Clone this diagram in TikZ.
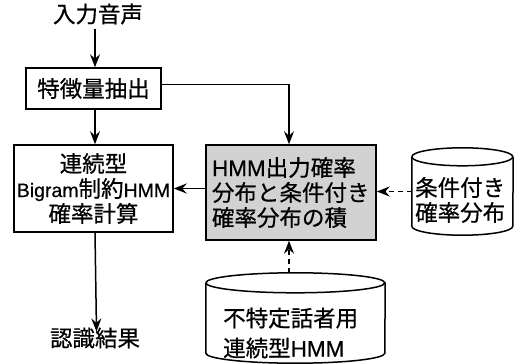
\documentclass[tikz,border=0pt]{standalone}
\usepackage{fontspec}
\setmainfont{Noto Sans CJK JP}[FakeBold=0.6]
\newfontfamily\latfont{Liberation Sans}[FakeBold=0.6]
\newcommand\smlat[1]{{\latfont\fontsize{19.5}{25}\selectfont #1}}
\usetikzlibrary{arrows.meta}
\begin{document}
\begin{tikzpicture}[x=1pt,y=-1pt,
  every node/.style={font=\fontsize{22.5}{25}\selectfont, inner sep=0pt},
  box/.style={draw, line width=1.5pt, align=center},
  arr/.style={line width=1.5pt, -{Stealth[length=13pt,width=10pt,inset=4.5pt]}},
  darr/.style={arr, dash pattern=on 5pt off 4pt},
  cyl/.style={line width=1.5pt}]
\useasboundingbox (0,0) rectangle (522,364);
\node (in) at (98,14) {入力音声};
\node[box, minimum width=135pt, minimum height=41pt] (feat) at (93.5,88.5) {特徴量抽出};
\node[box, minimum width=159pt, minimum height=87pt] (cont) at (93.5,188.5) {連続型\\\smlat{Bigram}制約\smlat{HMM}\\確率計算};
\node[box, fill=gray!35, minimum width=170pt, minimum height=95pt, text width=158pt, align=left] (prod) at (291,192.5) {{\latfont HMM}出力確率\\分布と条件付き\\確率分布の積};
\node (res) at (95,338) {認識結果};
% right cylinder
\node[minimum width=101pt, minimum height=87pt] (rc) at (462.5,191.5) {};
\draw[cyl] ([yshift=-9pt]rc.north west) arc[start angle=180, end angle=-180, x radius=50.5pt, y radius=9pt];
\draw[cyl] ([yshift=-9pt]rc.north west) -- ([yshift=9pt]rc.south west)
  arc[start angle=180, end angle=360, x radius=50.5pt, y radius=9pt] -- ([yshift=-9pt]rc.north east);
\node[align=left, anchor=west] (rct) at (415,200) {条件付き\\確率分布};
% bottom cylinder
\node[minimum width=179pt, minimum height=90pt] (bc) at (295.5,318) {};
\draw[cyl] ([yshift=-10pt]bc.north west) arc[start angle=180, end angle=-180, x radius=89.5pt, y radius=10pt];
\draw[cyl] ([yshift=-10pt]bc.north west) -- ([yshift=10pt]bc.south west)
  arc[start angle=180, end angle=360, x radius=89.5pt, y radius=10pt] -- ([yshift=-10pt]bc.north east);
\node[align=left, anchor=west, font=\fontsize{22.5}{30}\selectfont] (bct) at (223,333) {不特定話者用\\連続型{\latfont HMM}};
% connectors
\draw[arr] ([xshift=-3pt,yshift=-4pt]in.south) -- ([xshift=1.5pt]feat.north);
\draw[arr] ([xshift=1.5pt]feat.south) -- ([xshift=1.5pt]cont.north);
\draw[arr] ([yshift=4pt]feat.east) -| ([xshift=-2pt]prod.north);
\draw[arr] (prod.west |- cont.east) -- (cont.east);
\draw[arr] ([xshift=1.5pt]cont.south) -- ([xshift=1.5pt,yshift=-4pt]res.north);
\draw[darr] (rc.west) -- (prod.east |- rc.west);
\draw[darr] ([xshift=-2pt]prod.south |- bc.north) -- ([xshift=-2pt]prod.south);
\end{tikzpicture}
\end{document}
